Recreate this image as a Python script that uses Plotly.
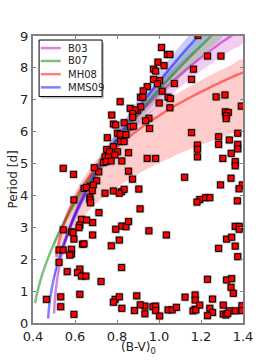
import plotly.graph_objects as go

# ---------------- data: observed stars (B-V)0 vs period ----------------
bv_upper = [1.186, 1.012, 1.040, 1.052, 0.995, 1.024, 0.974, 0.984, 0.974, 1.003,
            0.993, 0.944, 0.925, 1.015, 1.073, 0.912, 0.923, 1.043, 1.054, 1.001,
            0.896, 0.913, 1.052, 0.952, 0.936, 0.955, 0.815, 0.863, 0.887, 0.875,
            0.775, 0.783, 0.794, 0.834, 0.875, 0.863, 0.878, 0.802, 0.815, 0.843,
            0.754, 0.818, 0.834, 0.783, 0.751, 0.764, 0.802, 0.855, 0.743, 0.759,
            0.790, 0.735, 0.748, 0.772, 0.823, 0.944, 0.984]
p_upper = [9.02, 8.64, 8.42, 8.42, 8.18, 8.07, 7.96, 7.90, 7.64, 7.60,
           7.50, 7.41, 7.28, 7.27, 7.51, 7.08, 7.08, 7.08, 7.04, 6.90,
           6.66, 6.78, 6.75, 6.42, 6.34, 6.10, 6.94, 6.73, 6.68, 6.57,
           6.52, 6.24, 6.21, 6.28, 6.45, 6.15, 6.17, 5.95, 5.92, 5.91,
           5.81, 5.69, 5.69, 5.53, 5.44, 5.37, 5.37, 5.34, 5.21, 5.21,
           5.27, 5.03, 5.06, 5.08, 5.08, 5.16, 5.16]

bv_right = [1.164, 1.155, 1.231, 1.295, 1.272, 1.314, 1.392, 1.316, 1.330, 1.320,
            1.320, 1.155, 1.284, 1.335, 1.375, 1.375, 1.375, 1.183, 1.183, 1.284,
            1.183, 1.344, 1.304, 1.363, 1.363, 1.122, 1.343, 1.293, 1.397, 1.381,
            1.373, 1.194, 1.181, 1.222, 1.242, 0.910, 0.904, 0.952, 1.035, 1.363,
            1.382, 1.382, 1.322, 1.346, 1.363, 1.284, 1.375, 1.231, 1.322, 1.346,
            1.343, 1.354, 1.124, 1.172, 1.172, 1.172, 1.162, 1.255, 1.306, 1.395,
            1.395, 0.933, 0.933, 0.971, 0.984, 0.984, 1.003, 1.043, 1.063, 1.083,
            1.175, 1.194, 1.242, 1.255, 1.231, 1.306, 1.319, 1.335, 1.327, 1.363,
            0.911]
p_right = [7.96, 7.64, 8.37, 8.37, 7.09, 7.15, 6.80, 6.62, 6.60, 6.50,
           6.41, 5.97, 5.84, 5.74, 5.95, 5.60, 5.46, 5.58, 5.45, 5.60,
           5.21, 5.32, 5.16, 5.06, 4.93, 4.57, 4.54, 4.33, 4.33, 4.21,
           3.83, 3.87, 3.79, 3.93, 3.93, 3.58, 4.20, 2.89, 2.76, 3.03,
           3.03, 2.94, 2.63, 2.69, 2.41, 2.34, 2.08, 1.37, 1.35, 1.39,
           1.12, 0.93, 0.81, 0.88, 0.72, 0.43, 0.38, 0.75, 0.56, 0.54,
           0.39, 0.53, 0.29, 0.51, 0.53, 0.39, 0.22, 0.41, 0.41, 0.49,
           0.41, 0.56, 0.46, 0.33, 0.23, 0.28, 0.25, 0.38, 0.30, 0.38,
           0.57]

bv_left = [0.544, 0.593, 0.713, 0.692, 0.855, 0.874, 0.783, 0.822, 0.834, 0.811,
           0.743, 0.703, 0.671, 0.687, 0.643, 0.655, 0.682, 0.671, 0.671, 0.674,
           0.595, 0.714, 0.631, 0.655, 0.623, 0.619, 0.684, 0.544, 0.583, 0.591,
           0.595, 0.684, 0.636, 0.643, 0.794, 0.823, 0.843, 0.855, 0.773, 0.811,
           0.524, 0.544, 0.583, 0.583, 0.575, 0.524, 0.563, 0.623, 0.612, 0.631,
           0.652, 0.724, 0.822, 0.464, 0.532, 0.532, 0.623, 0.595, 0.791, 0.783,
           0.811, 0.823, 0.883, 0.894]
p_left = [4.85, 4.66, 4.74, 4.87, 4.76, 4.51, 4.14, 4.12, 4.19, 4.07,
          4.07, 4.46, 4.29, 4.33, 4.22, 4.25, 4.15, 3.94, 3.86, 3.77,
          3.86, 3.46, 3.25, 3.23, 3.07, 2.99, 3.15, 2.92, 2.86, 2.84,
          2.63, 2.76, 2.47, 2.48, 2.94, 3.04, 3.02, 3.18, 2.42, 2.60,
          2.29, 2.29, 2.31, 2.16, 2.13, 1.90, 1.61, 1.69, 1.58, 1.47,
          1.47, 1.30, 1.74, 0.74, 0.82, 0.51, 0.90, 0.27, 0.74, 0.65,
          0.82, 0.46, 0.39, 0.85]

# ---------------- data: gyrochronology curves ----------------
b03_bv = [0.5007, 0.502, 0.505, 0.51, 0.52, 0.54, 0.57, 0.60, 0.65, 0.70, 0.75, 0.80,
          0.85, 0.90, 0.95, 1.00, 1.05, 1.10, 1.15, 1.20, 1.25, 1.30, 1.35, 1.40]
b03_p = [0.30, 0.50, 0.80, 1.12, 1.57, 2.21, 2.89, 3.42, 4.15, 4.74, 5.26, 5.72,
         6.13, 6.51, 6.86, 7.19, 7.49, 7.78, 8.06, 8.32, 8.57, 8.81, 9.03, 9.25]
b03_band_bv = [0.54, 0.57, 0.60, 0.65, 0.70, 0.75, 0.80, 0.85, 0.90, 0.95, 1.00,
               1.05, 1.10, 1.15, 1.20, 1.25, 1.30, 1.35, 1.40]
b03_lo = [2.10, 2.75, 3.25, 3.94, 4.50, 5.00, 5.43, 5.82, 6.18, 6.52, 6.83,
          7.12, 7.39, 7.66, 7.90, 8.14, 8.37, 8.58, 8.79]
b03_hi = [2.32, 3.03, 3.59, 4.36, 4.98, 5.52, 6.01, 6.44, 6.84, 7.20, 7.55,
          7.86, 8.17, 8.46, 8.74, 9.00, 9.25, 9.48, 9.71]

b07_bv = [0.41, 0.42, 0.44, 0.46, 0.50, 0.55, 0.60, 0.65, 0.70, 0.75, 0.80, 0.85,
          0.90, 0.95, 1.00, 1.05, 1.10, 1.15, 1.20, 1.25, 1.30]
b07_p = [0.62, 0.95, 1.44, 1.83, 2.49, 3.18, 3.78, 4.32, 4.82, 5.29, 5.73, 6.15,
         6.55, 6.94, 7.31, 7.67, 8.02, 8.36, 8.69, 9.01, 9.33]
b07_band_bv = [0.50, 0.55, 0.60, 0.65, 0.70, 0.75, 0.80, 0.85, 0.90, 0.95, 1.00,
               1.05, 1.10, 1.15, 1.20, 1.25, 1.30]
b07_lo = [2.39, 3.05, 3.63, 4.15, 4.63, 5.08, 5.50, 5.90, 6.29, 6.66, 7.02,
          7.36, 7.70, 8.03, 8.34, 8.65, 8.96]
b07_hi = [2.59, 3.31, 3.93, 4.49, 5.01, 5.50, 5.96, 6.40, 6.81, 7.22, 7.60,
          7.98, 8.34, 8.69, 9.04, 9.37, 9.70]

mh08_bv = [0.51, 0.52, 0.55, 0.60, 0.65, 0.70, 0.75, 0.80, 0.85, 0.90, 0.95,
           1.00, 1.05, 1.10, 1.15, 1.20, 1.25, 1.30, 1.35, 1.40]
mh08_p = [2.07, 2.45, 3.16, 3.90, 4.43, 4.85, 5.21, 5.52, 5.80, 6.05, 6.29,
          6.50, 6.71, 6.90, 7.08, 7.25, 7.41, 7.57, 7.72, 7.86]
mh08_lo = [1.60, 1.89, 2.44, 3.01, 3.42, 3.74, 4.02, 4.26, 4.47, 4.67, 4.85,
           5.01, 5.17, 5.32, 5.46, 5.59, 5.71, 5.83, 5.95, 6.06]
mh08_hi = [2.18, 2.57, 3.32, 4.10, 4.65, 5.10, 5.47, 5.80, 6.09, 6.36, 6.60,
           6.83, 7.04, 7.24, 7.43, 7.61, 7.79, 7.95, 8.11, 8.26]

mms09_bv = [0.4725, 0.475, 0.48, 0.49, 0.50, 0.52, 0.55, 0.60, 0.65, 0.70, 0.75,
            0.80, 0.85, 0.90, 0.95, 1.00, 1.05, 1.10, 1.15, 1.20, 1.25]
mms09_p = [0.14, 0.40, 0.70, 1.10, 1.42, 1.93, 2.55, 3.38, 4.07, 4.69, 5.25,
           5.77, 6.26, 6.72, 7.16, 7.57, 7.97, 8.36, 8.73, 9.09, 9.45]
mms09_band_bv = [0.50, 0.55, 0.60, 0.65, 0.70, 0.75, 0.80, 0.85, 0.90, 0.95,
                 1.00, 1.05, 1.10, 1.15, 1.20, 1.25]
mms09_lo = [1.36, 2.45, 3.24, 3.91, 4.50, 5.04, 5.54, 6.01, 6.45, 6.87,
            7.27, 7.65, 8.03, 8.38, 8.73, 9.07]
mms09_hi = [1.48, 2.65, 3.52, 4.23, 4.88, 5.46, 6.00, 6.51, 6.99, 7.45,
            7.87, 8.29, 8.69, 9.08, 9.45, 9.83]

x_ticks = [0.4, 0.6, 0.8, 1.0, 1.2, 1.4]
x_ticklabels = ["0.4", "0.6", "0.8", "1.0", "1.2", "1.4"]
y_ticks = [0, 1, 2, 3, 4, 5, 6, 7, 8, 9]
legend_names = ["B03", "B07", "MH08", "MMS09"]

FONT = "DejaVu Sans"
TXT = "#222222"
fig = go.Figure()


def band(xs, lo, hi, color):
    fig.add_trace(go.Scatter(
        x=list(xs) + list(xs)[::-1], y=list(hi) + list(lo)[::-1],
        fill="toself", fillcolor=color, mode="lines", line=dict(width=0, shape="spline"),
        hoverinfo="skip", showlegend=False))


band(mh08_bv, mh08_lo, mh08_hi, "rgba(255,0,0,0.2)")
band(b03_band_bv, b03_lo, b03_hi, "rgba(191,0,191,0.2)")
band(b07_band_bv, b07_lo, b07_hi, "rgba(0,128,0,0.2)")
band(mms09_band_bv, mms09_lo, mms09_hi, "rgba(0,0,255,0.2)")

line_colors = ["rgba(191,0,191,0.5)", "rgba(0,128,0,0.5)",
               "rgba(255,0,0,0.5)", "rgba(0,0,255,0.5)"]
curve_data = [(b03_bv, b03_p), (b07_bv, b07_p), (mh08_bv, mh08_p), (mms09_bv, mms09_p)]
for name, (xs, ys), col in zip(legend_names, curve_data, line_colors):
    fig.add_trace(go.Scatter(x=xs, y=ys, mode="lines", name=name, showlegend=False,
                             line=dict(color=col, width=2.5, shape="spline"),
                             hoverinfo="skip"))

all_bv = bv_upper + bv_right + bv_left
all_p = p_upper + p_right + p_left
# soft shadow under each square
fig.add_trace(go.Scatter(x=all_bv, y=all_p, mode="markers", showlegend=False,
                         marker=dict(symbol="square", size=8.5, color="rgba(110,110,110,0.5)",
                                     line=dict(width=0))))
fig.add_trace(go.Scatter(x=all_bv, y=all_p, mode="markers", showlegend=False,
                         marker=dict(symbol="square", size=6, color="#ff0000",
                                     line=dict(width=1, color="black"))))

axis_common = dict(showline=True, mirror="ticks", linecolor="#808080", linewidth=2,
                   ticks="inside", ticklen=3, tickcolor="#808080", showgrid=False,
                   zeroline=False, automargin=False,
                   tickfont=dict(family=FONT, size=13, color=TXT))
fig.update_xaxes(range=[0.4, 1.4], tickvals=x_ticks, ticktext=x_ticklabels, **axis_common)
fig.update_yaxes(range=[0, 9], tickvals=y_ticks, **axis_common)

# ---- legend box drawn in paper coordinates (matplotlib-like framed legend) ----
shapes = [
    dict(type="rect", xref="paper", yref="paper", x0=0.038, x1=0.338, y0=0.782, y1=0.977,
         fillcolor="rgba(120,120,120,0.45)", line=dict(width=0)),
    dict(type="rect", xref="paper", yref="paper", x0=0.029, x1=0.329, y0=0.789, y1=0.986,
         fillcolor="white", line=dict(color="black", width=1)),
]
annotations = []
row_y = [0.958, 0.913, 0.867, 0.821]
for name, col, yy in zip(legend_names, line_colors, row_y):
    shapes.append(dict(type="line", xref="paper", yref="paper", x0=0.037, x1=0.132,
                       y0=yy, y1=yy, line=dict(color=col, width=2.5)))
    annotations.append(dict(xref="paper", yref="paper", x=0.158, y=yy, text=name,
                            showarrow=False, xanchor="left", yanchor="middle",
                            font=dict(family=FONT, size=10, color=TXT)))

annotations.append(dict(xref="paper", yref="paper", x=-0.1, y=0.5, text="Period [d]",
                        textangle=-90, showarrow=False, xanchor="center", yanchor="middle",
                        font=dict(family=FONT, size=12, color=TXT)))
annotations.append(dict(xref="paper", yref="paper", x=0.5, y=-0.088,
                        text="(B-V)<sub>0</sub>", showarrow=False,
                        xanchor="center", yanchor="middle",
                        font=dict(family=FONT, size=12, color=TXT)))

fig.update_layout(
    width=270, height=360,
    margin=dict(l=33, r=27, t=36, b=37),
    paper_bgcolor="white", plot_bgcolor="white",
    font=dict(family=FONT, color=TXT),
    showlegend=False,
    shapes=shapes,
    annotations=annotations,
)

fig.write_html("out.html", config={"displayModeBar": False},
               post_script="document.body.style.margin='0';")
